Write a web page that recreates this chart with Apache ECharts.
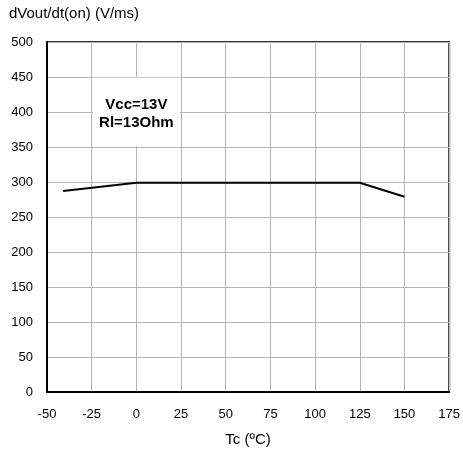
<!DOCTYPE html>
<html><head><meta charset="utf-8">
<script src="https://cdn.jsdelivr.net/npm/echarts@6/dist/echarts.min.js"></script>
<style>html,body{margin:0;padding:0;background:#fff}#c{width:463px;height:453px}</style>
</head><body><div id="c"></div>
<script>
var tc = [-41, 0, 125, 150];
var dvdt = [287, 299, 299, 279];
var xTicks = [-50, -25, 0, 25, 50, 75, 100, 125, 150, 175];
var yTicks = [0, 50, 100, 150, 200, 250, 300, 350, 400, 450, 500];
var noteLines = ['Vcc=13V', 'Rl=13Ohm'];
var yTitle = 'dVout/dt(on) (V/ms)';
var xTitle = 'Tc (ºC)';

var chart = echarts.init(document.getElementById('c'));
var font = 'Liberation Sans, Arial, sans-serif';
chart.setOption({
  animation: false,
  grid: {left: 47, right: 13, top: 42, bottom: 61, show: true, borderColor: '#333', borderWidth: 2, backgroundColor: 'transparent'},
  graphic: [{
    type: 'text', left: 9, top: 6,
    style: {text: yTitle, font: '15px ' + font, fill: '#000'}
  }],
  xAxis: {
    type: 'value', min: xTicks[0], max: xTicks[xTicks.length-1], interval: 25,
    name: xTitle, nameLocation: 'middle', nameGap: 40,
    nameTextStyle: {fontFamily: font, fontSize: 15, color: '#000'},
    axisLine: {show: true, onZero: false, lineStyle: {color: '#000', width: 2}},
    axisTick: {show: false},
    axisLabel: {fontFamily: font, fontSize: 13, color: '#000', margin: 16},
    splitLine: {show: true, lineStyle: {color: '#b4b4b4', width: 1}}
  },
  yAxis: {
    type: 'value', min: yTicks[0], max: yTicks[yTicks.length-1], interval: 50,
    axisLine: {show: true, onZero: false, lineStyle: {color: '#000', width: 2}},
    axisTick: {show: false},
    axisLabel: {fontFamily: font, fontSize: 13, color: '#000', margin: 14},
    splitLine: {show: true, lineStyle: {color: '#b4b4b4', width: 1}}
  },
  series: [{
    type: 'line', data: tc.map(function(x, i){ return [x, dvdt[i]]; }),
    symbol: 'none', lineStyle: {color: '#000', width: 2},
    markArea: {
      silent: true,
      itemStyle: {color: '#fff'},
      label: {show: true, position: 'inside', formatter: noteLines.join('\n'),
        fontFamily: font, fontSize: 15, fontWeight: 'bold', color: '#000', lineHeight: 18, offset: [0, 2]},
      data: [[{coord: [-24.4, 449]}, {coord: [24.4, 351]}]]
    }
  }]
});
</script></body></html>
